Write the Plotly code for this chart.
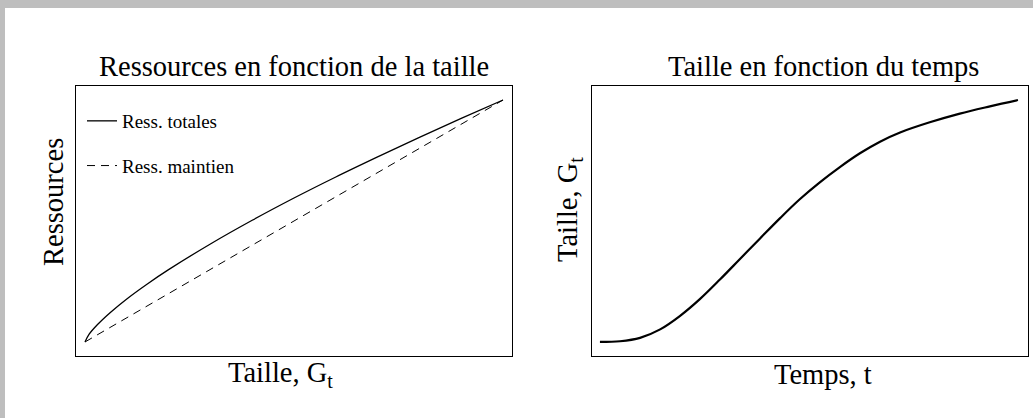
import plotly.graph_objects as go

W, H = 1033, 418
FONT = "Liberation Serif"

# panneau gauche : ressources en fonction de la taille (unités relatives)
taille = [0, 0.01, 0.03, 0.06, 0.1, 0.15, 0.2, 0.3, 0.4, 0.5, 0.6, 0.7, 0.8, 0.9, 1.0]
ress_totales = [0, 0.032, 0.072, 0.121, 0.178, 0.241, 0.299, 0.405, 0.503, 0.595,
                0.682, 0.765, 0.846, 0.924, 1.0]
ress_maintien = [0, 0.01, 0.03, 0.06, 0.1, 0.15, 0.2, 0.3, 0.4, 0.5, 0.6, 0.7, 0.8, 0.9, 1.0]

# panneau droit : taille en fonction du temps
temps = [0, 0.048, 0.096, 0.144, 0.191, 0.239, 0.287, 0.335, 0.383, 0.431, 0.478,
         0.526, 0.574, 0.622, 0.670, 0.718, 0.789, 0.861, 0.933, 1.0]
taille_t = [0, 0.003, 0.017, 0.052, 0.107, 0.177, 0.258, 0.343, 0.428, 0.512, 0.590,
            0.660, 0.723, 0.780, 0.828, 0.866, 0.908, 0.944, 0.974, 1.0]


def px_x(p):
    return p / W


def px_y(p):
    return 1 - p / H


fig = go.Figure()

fig.add_trace(go.Scatter(x=taille, y=ress_totales, mode="lines", name="Ress. totales",
                         legendgroup="a", line=dict(color="black", width=1.3, shape="spline"),
                         xaxis="x", yaxis="y"))
fig.add_trace(go.Scatter(x=taille, y=ress_maintien, mode="lines", name="Ress. maintien",
                         legendgroup="b", line=dict(color="black", width=1, dash="8px,6px"),
                         xaxis="x", yaxis="y"))
fig.add_trace(go.Scatter(x=temps, y=taille_t, mode="lines", showlegend=False,
                         line=dict(color="black", width=2.2, shape="spline"),
                         xaxis="x2", yaxis="y2"))

ax = dict(showline=True, linecolor="black", linewidth=1, mirror=True, showgrid=False,
          zeroline=False, showticklabels=False, ticks="")

fig.update_layout(
    width=W, height=H,
    margin=dict(l=0, r=0, t=0, b=0),
    paper_bgcolor="white", plot_bgcolor="white",
    xaxis=dict(ax, domain=[px_x(76), px_x(512)], range=[-0.0215, 1.0215]),
    yaxis=dict(ax, domain=[px_y(356), px_y(86)], range=[-0.058, 1.058]),
    xaxis2=dict(ax, domain=[px_x(592), px_x(1028)], range=[-0.019, 1.024], anchor="y2"),
    yaxis2=dict(ax, domain=[px_y(356), px_y(86)], range=[-0.058, 1.058], anchor="x2"),
    legend=dict(x=px_x(82), y=px_y(102), xanchor="left", yanchor="top",
                font=dict(family=FONT, size=19, color="black"), bgcolor="rgba(0,0,0,0)",
                traceorder="grouped", tracegroupgap=17),
    font=dict(family=FONT, color="black"),
    shapes=[
        dict(type="rect", xref="paper", yref="paper", x0=0, x1=1, y0=px_y(8), y1=1,
             fillcolor="#bebebe", line_width=0, layer="below"),
        dict(type="rect", xref="paper", yref="paper", x0=0, x1=px_x(5), y0=0, y1=1,
             fillcolor="#bebebe", line_width=0, layer="below"),
    ],
)

titres = [
    ("Ressources en fonction de la taille", 294, 66, 0),
    ("Taille en fonction du temps", 823, 66, 0),
    ("Taille, G<sub>t</sub>", 280, 374, 0),
    ("Temps, t", 823, 374, 0),
    ("Ressources", 53, 202, -90),
    ("Taille, G<sub>t</sub>", 570, 210, -90),
]
for texte, x, y, angle in titres:
    fig.add_annotation(text=texte, x=px_x(x), y=px_y(y), xref="paper", yref="paper",
                       showarrow=False, textangle=angle, xanchor="center", yanchor="middle",
                       font=dict(family=FONT, size=28.5, color="black"))

# la page HTML ajoute une marge de 8 px autour du graphique : on la retire
fig.write_html("out.html", config={"displayModeBar": False},
               post_script="document.body.style.margin = '0';")
